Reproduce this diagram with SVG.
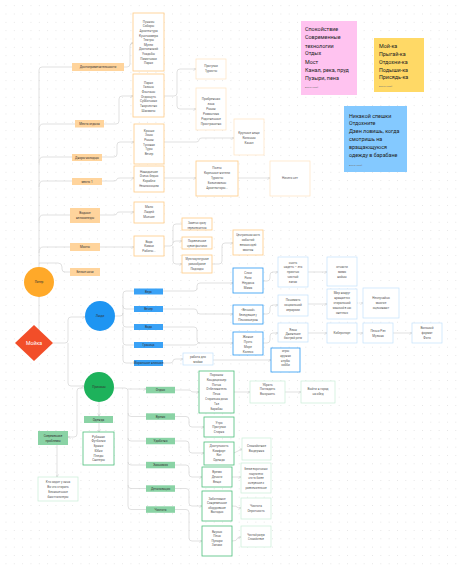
<svg xmlns="http://www.w3.org/2000/svg" width="457" height="569" viewBox="0 0 457 569">
<defs>
<pattern id="dots" width="8.33" height="8.33" patternUnits="userSpaceOnUse" x="1.8" y="1.5"><circle cx="4.17" cy="4.17" r="0.45" fill="#cfcfcf"/></pattern>
<marker id="ar" markerWidth="3" markerHeight="3" refX="2.6" refY="1.5" orient="auto" markerUnits="userSpaceOnUse"><path d="M0,0 L2.6,1.5 L0,3" fill="none" stroke="#c4c4c4" stroke-width="0.5"/></marker>
<style>
text{font-family:Roboto,"Noto Sans",sans-serif;}
.t{font-size:3.1px;fill:#555;text-anchor:middle;}
.t .s{font-size:2.6px;}
.lt{font-size:3.1px;fill:#333;text-anchor:middle;}
.st{font-size:5.4px;fill:#222;}
.au{font-size:2.2px;fill:#777;}
.ol{fill:#FFD49C;}
.ob{fill:#fff;stroke:#FFCB85;stroke-width:0.8;}
.ob2{fill:#fff;stroke:#FFE3BF;stroke-width:0.7;}
.bl{fill:#3AA2F6;}
.bb{fill:#fff;stroke:#2A98F2;stroke-width:0.8;}
.bb2{fill:#fff;stroke:#C3E1FB;stroke-width:0.7;}
.gl{fill:#8AD3A5;}
.gb{fill:#fff;stroke:#4DBF7A;stroke-width:0.8;}
.gb2{fill:#fff;stroke:#C9EED7;stroke-width:0.7;}
.c{fill:none;stroke:#cdcdcd;stroke-width:0.6;}
.ca{fill:none;stroke:#cdcdcd;stroke-width:0.6;marker-end:url(#ar);}
</style>
</defs>
<rect width="457" height="569" fill="#fff"/>
<rect width="457" height="569" fill="url(#dots)"/>

<g id="connectors">
<path class="c" d="M39,267 V70 Q39,67 42,67 H72"/>
<path class="c" d="M39,130 Q39,124 43,124 H75"/>
<path class="c" d="M39,163 Q39,157 43,157 H72"/>
<path class="c" d="M39,187 Q39,181 43,181 H72"/>
<path class="c" d="M39,221 Q39,215 43,215 H70"/>
<path class="c" d="M39,253 Q39,247 43,247 H70"/>
<path class="c" d="M39,263 H58 Q62,263 62,267 V269 Q62,272 65,272 H70"/>
<path class="c" d="M39,297 V331"/>
<path class="ca" d="M124,67 H127 Q130,67 130,64 V46 Q130,43 133,43"/>
<path class="ca" d="M104,124 H116 Q119,124 119,121 V99 Q119,96 122,96 H133"/>
<path class="ca" d="M102,157 H114 Q117,157 117,154 V145 Q117,142 120,142 H134"/>
<path class="ca" d="M102,181 H114 Q117,181 117,179 Q117,178 120,178 H134"/>
<path class="ca" d="M100,215 H114 Q117,215 117,213 Q117,212 120,212 H134"/>
<path class="ca" d="M100,247 H134"/>
<path class="ca" d="M164,96 H174 Q177,96 177,93 V72 Q177,69 180,69 H196"/>
<path class="ca" d="M177,96 V106 Q177,109 180,109 H196"/>
<path class="ca" d="M164,142 H196 Q199,142 199,140 Q199,138 202,138 H234"/>
<path class="ca" d="M164,178 H196"/>
<path class="ca" d="M238,178 H270"/>
<path class="c" d="M164,246 H170 Q173,246 173,243 V227 Q173,224 176,224 H182"/>
<path class="ca" d="M173,243 Q173,241 176,241 H182"/>
<path class="ca" d="M173,246 V261 Q173,264 176,264 H182"/>
<path class="ca" d="M212,264 H219 Q222,264 222,261 V246 Q222,243 225,243 H233"/>
<path class="ca" d="M53,343 H65 Q68,343 68,340 V320 Q68,317 71,317 H85"/>
<path class="ca" d="M68,343 V383 Q68,386 71,386 H84"/>
<path class="c" d="M115,316 H120 Q123,316 123,313 V294 Q123,291 126,291 H134"/>
<path class="c" d="M123,306 Q123,309 126,309 H134"/>
<path class="c" d="M123,313 V324 Q123,327 126,327 H134"/>
<path class="c" d="M123,327 V342 Q123,345 126,345 H134"/>
<path class="c" d="M123,345 V360 Q123,363 126,363 H134"/>
<path class="ca" d="M163,291 H194 Q197,291 197,288 V286 Q197,283 200,283 H233"/>
<path class="ca" d="M163,309 H194 Q197,309 197,311 Q197,314 200,314 H233"/>
<path class="ca" d="M163,327 H194 Q197,327 197,330 V340 Q197,343 200,343 H233"/>
<path class="c" d="M163,345 H194 Q197,345 197,344 Q197,343 200,343"/>
<path class="ca" d="M163,363 H170 Q173,363 173,361 Q173,359 176,359 H183"/>
<path class="ca" d="M213,360 H271"/>
<path class="ca" d="M263,281 H267 Q270,281 270,278 V275 Q270,272 273,272 H278"/>
<path class="ca" d="M308,272 H327"/>
<path class="ca" d="M263,314 H267 Q270,314 270,311 V308 Q270,305 273,305 H278"/>
<path class="ca" d="M308,304 H327"/>
<path class="ca" d="M357,303 H363" stroke-dasharray="1,0.8"/>
<path class="ca" d="M263,343 H267 Q270,343 270,340 V336 Q270,333 273,333 H278"/>
<path class="ca" d="M308,333 H327"/>
<path class="ca" d="M357,333 H363"/>
<path class="ca" d="M393,333 H412"/>
<path class="c" d="M114,388 H125 Q128,388 128,391 V506 Q128,509.5 131,509.5 H146"/>
<path class="ca" d="M128,389 H146"/>
<path class="c" d="M128,413 Q128,416.5 131,416.5 H146"/>
<path class="c" d="M128,438 Q128,441 131,441 H146"/>
<path class="c" d="M128,462 Q128,465 131,465 H146"/>
<path class="c" d="M128,485 Q128,488.5 131,488.5 H146"/>
<path class="ca" d="M175,390 H188 Q191,390 191,391 Q191,392 194,392 H199"/>
<path class="ca" d="M175,416.5 H186 Q189,416.5 189,419.5 V424 Q189,427 192,427 H204"/>
<path class="ca" d="M175,441 H186 Q189,441 189,444 V450 Q189,453 192,453 H204"/>
<path class="ca" d="M175,465 H186 Q189,465 189,468 V474 Q189,477 192,477 H202"/>
<path class="ca" d="M175,488.5 H186 Q189,488.5 189,491.5 V503 Q189,506 192,506 H202"/>
<path class="ca" d="M175,509.5 H186 Q189,509.5 189,512.5 V538 Q189,541 192,541 H202"/>
<path class="ca" d="M234,392 H250"/>
<path class="ca" d="M285,392 H301"/>
<path class="ca" d="M234,453 L242,449"/>
<path class="ca" d="M232,477 H241"/>
<path class="ca" d="M232,506 Q237,506 237,507 Q237,508 241,508"/>
<path class="ca" d="M232,541 Q237,541 237,539 Q237,537 241,537"/>
<path class="ca" d="M99,402 V416"/>
<path class="ca" d="M99,423 V432"/>
<path class="ca" d="M84,388 H80 Q77,388 77,391 V434 Q77,437 74,437 H68"/>
<path class="ca" d="M57,445 V477"/>
</g>

<g id="node-piter"><circle cx="39" cy="282" r="15" fill="#FFA929"/><text class="lt" x="39" y="283.2">Питер</text></g>
<g id="node-moika"><path d="M34,325 L53,343 L34,361 L15,343 Z" fill="#F24E29"/><text x="34" y="345" font-size="5.2" fill="#fff" text-anchor="middle">Мойка</text></g>
<g id="node-people"><circle cx="100" cy="316" r="15" fill="#1E95F2"/><text class="lt" x="100" y="317.2" fill="#fff">Люди</text></g>
<g id="node-reasons"><circle cx="99" cy="387" r="15" fill="#1DB25B"/><text class="lt" x="99" y="388.2">Причины</text></g>

<g id="o-l1"><rect class="ol" x="72" y="63" width="52" height="8"/><text class="lt" x="98" y="68.1">Достопримечательности</text></g>
<g id="o-l2"><rect class="ol" x="75" y="120" width="29" height="7.5"/><text class="lt" x="89.5" y="124.9">Места отдыха</text></g>
<g id="o-l3"><rect class="ol" x="72" y="154" width="30" height="7"/><text class="lt" x="87" y="158.6">Дворы-колодцы</text></g>
<g id="o-l4"><rect class="ol" x="72" y="178" width="30" height="7"/><text class="lt" x="87" y="182.6">место 1</text></g>
<g id="o-l5"><rect class="ol" x="70" y="208" width="30" height="15"/><text class="lt"><tspan x="85" y="213.8">Водные</tspan><tspan x="85" y="218.8">велосипеды</tspan></text></g>
<g id="o-l6"><rect class="ol" x="70" y="243" width="30" height="8"/><text class="lt" x="85" y="248.1">Мосты</text></g>
<g id="o-l7"><rect class="ol" x="70" y="268" width="30" height="8"/><text class="lt" x="85" y="273.1">Белые ночи</text></g>

<g id="o-b1"><rect class="ob" x="133" y="13" width="31" height="58"/><text class="t"><tspan x="148.5" y="22.8">Пушкин</tspan><tspan x="148.5" y="27.4">Соборы</tspan><tspan x="148.5" y="32">Архитектура</tspan><tspan x="148.5" y="36.6">Кунсткамера</tspan><tspan x="148.5" y="41.2">Театры</tspan><tspan x="148.5" y="45.8">Музеи</tspan><tspan x="148.5" y="50.4">Достоевский</tspan><tspan x="148.5" y="55">Усадьбы</tspan><tspan x="148.5" y="59.6">Памятники</tspan><tspan x="148.5" y="64.2">Парки</tspan></text></g>
<g id="o-b2"><rect class="ob" x="133" y="74" width="31" height="43"/><text class="t"><tspan x="148.5" y="83.6">Парки</tspan><tspan x="148.5" y="88.3">Газоны</tspan><tspan x="148.5" y="93">Фонтаны</tspan><tspan x="148.5" y="97.6">Отдохнуть</tspan><tspan x="148.5" y="102.3">Субботники</tspan><tspan x="148.5" y="107">Творчество</tspan><tspan x="148.5" y="111.6">Шахматы</tspan></text></g>
<g id="o-b2a"><rect class="ob2" x="196" y="59" width="30" height="20"/><text class="t"><tspan x="211" y="67.1">Прогулки</tspan><tspan x="211" y="71.6">Туристы</tspan></text></g>
<g id="o-b2b"><rect class="ob2" x="196" y="88" width="30" height="42"/><text class="t"><tspan x="211" y="100.1">Прибрежная</tspan><tspan x="211" y="105.1">зона</tspan><tspan x="211" y="110.1">Рынок</tspan><tspan x="211" y="115.1">Романтика</tspan><tspan x="211" y="120.1">Родственные</tspan><tspan x="211" y="125.1">Пространство</tspan></text></g>
<g id="o-b3"><rect class="ob" x="134" y="124" width="30" height="40"/><text class="t"><tspan x="149" y="131.8">Крыши</tspan><tspan x="149" y="136.4">Зоны</tspan><tspan x="149" y="141.1">Рынок</tspan><tspan x="149" y="145.8">Тусовки</tspan><tspan x="149" y="150.1">Туры</tspan><tspan x="149" y="154.8">Вечер</tspan></text></g>
<g id="o-b3b"><rect class="ob2" x="234" y="119" width="30" height="36"/><text class="t"><tspan x="249" y="134.4">Крупные вещи</tspan><tspan x="249" y="139.4">Колонны</tspan><tspan x="249" y="143.8">Канал</tspan></text></g>
<g id="o-b4"><rect class="ob" x="134" y="166" width="30" height="26"/><text class="t"><tspan x="149" y="172.8">Наводнение</tspan><tspan x="149" y="177.4">Очень бедно</tspan><tspan x="149" y="182.1">Корабли</tspan><tspan x="149" y="186.8" class="s">Неоклассицизм</tspan></text></g>
<g id="o-b4b"><rect class="ob" x="196" y="161" width="42" height="35"/><text class="t"><tspan x="217" y="169.4">Поэты</tspan><tspan x="217" y="174.4">Коренные жители</tspan><tspan x="217" y="179.4">Туристы</tspan><tspan x="217" y="184.4">Бизнесмены</tspan><tspan x="217" y="189.4">Архитекторы...</tspan></text></g>
<g id="o-b4c"><rect class="ob2" x="270" y="161" width="40" height="35"/><text class="t" x="290" y="179.1">Ничего нет</text></g>
<g id="o-b5"><rect class="ob" x="134" y="202" width="30" height="21"/><text class="t"><tspan x="149" y="208.4">Мало</tspan><tspan x="149" y="213.1">Людей</tspan><tspan x="149" y="217.8">Мнение</tspan></text></g>
<g id="o-b6"><rect class="ob" x="134" y="236" width="30" height="20"/><text class="t"><tspan x="149" y="242.8">Вода</tspan><tspan x="149" y="247.4">Камни</tspan><tspan x="149" y="252.1">Работы...</tspan></text></g>
<g id="o-b6a"><rect class="ob" x="182" y="218" width="30" height="12"/><text class="t"><tspan x="197" y="224.4" class="s">Заметно сразу</tspan><tspan x="197" y="229" class="s">переключиться</tspan></text></g>
<g id="o-b6b"><rect class="ob" x="182" y="237" width="30" height="12"/><text class="t"><tspan x="197" y="242.1" class="s">Подсвеченные</tspan><tspan x="197" y="246.8" class="s">чужие фантазии</tspan></text></g>
<g id="o-b6c"><rect class="ob" x="182" y="255" width="30" height="18"/><text class="t"><tspan x="197" y="260.4" class="s">Мультикультурные</tspan><tspan x="197" y="265.4" class="s">разнообразие</tspan><tspan x="197" y="270.4">Подходы</tspan></text></g>
<g id="o-b6d"><rect class="ob" x="233" y="230" width="30" height="25"/><text class="t"><tspan x="248" y="236.1" class="s">Центральная часть</tspan><tspan x="248" y="241.1">событий</tspan><tspan x="248" y="246.1" class="s">великих идей</tspan><tspan x="248" y="251.1">мостов</tspan></text></g>

<g id="b-l1"><rect class="bl" x="134" y="288.5" width="29" height="6"/><text class="lt" x="148.5" y="292.6">Верх</text></g>
<g id="b-l2"><rect class="bl" x="134" y="306" width="29" height="6"/><text class="lt" x="148.5" y="310.1">Вечер</text></g>
<g id="b-l3"><rect class="bl" x="134" y="324" width="29" height="6"/><text class="lt" x="148.5" y="328.1">Вода</text></g>
<g id="b-l4"><rect class="bl" x="134" y="342" width="29" height="6"/><text class="lt" x="148.5" y="346.1">Граница</text></g>
<g id="b-l5"><rect class="bl" x="134" y="360" width="29" height="6"/><text class="lt" x="148.5" y="364.1" font-size="2.7">Моральное влияние</text></g>

<g id="b-a"><rect class="bb" x="233" y="268" width="30" height="25"/><text class="t"><tspan x="248" y="274.4">Слои</tspan><tspan x="248" y="279.4">Роли</tspan><tspan x="248" y="284.4">Неудача</tspan><tspan x="248" y="289.4">Мама</tspan></text></g>
<g id="b-a2"><rect class="bb2" x="278" y="257" width="30" height="30"/><text class="t"><tspan x="293" y="264.4">снять</tspan><tspan x="293" y="268.4">надеть – это</tspan><tspan x="293" y="272.8">приятно</tspan><tspan x="293" y="277.8">чистый</tspan><tspan x="293" y="282.8">запах</tspan></text></g>
<g id="b-a3"><rect class="bb2" x="327" y="257" width="30" height="29"/><text class="t"><tspan x="342" y="267.8">отчасти</tspan><tspan x="342" y="272.8">мимо</tspan><tspan x="342" y="277.8">войны</tspan></text></g>
<g id="b-b"><rect class="bb" x="233" y="305" width="30" height="19"/><text class="t"><tspan x="248" y="311.1">«Вечный»</tspan><tspan x="248" y="316.1" class="s">Беседующие у</tspan><tspan x="248" y="321.1">Пенсионеров</tspan></text></g>
<g id="b-b2"><rect class="bb2" x="278" y="295" width="30" height="21"/><text class="t"><tspan x="293" y="301.1">Понимать</tspan><tspan x="293" y="306.1">социальной</tspan><tspan x="293" y="311.1">иерархии</tspan></text></g>
<g id="b-b3"><rect class="bb2" x="327" y="289" width="30" height="30"/><text class="t"><tspan x="342" y="294.4">Мир вокруг</tspan><tspan x="342" y="299.4">вращается</tspan><tspan x="342" y="304.4">стиральной</tspan><tspan x="342" y="309.4" class="s">машиной в нас</tspan><tspan x="342" y="314.4">светлых</tspan></text></g>
<g id="b-b4"><rect class="bb2" x="363" y="288" width="36" height="30"/><text class="t"><tspan x="381" y="299.4">Неслучайно</tspan><tspan x="381" y="304.4">многие</tspan><tspan x="381" y="309.4">оценивают</tspan></text></g>
<g id="b-c"><rect class="bb" x="233" y="332" width="30" height="23"/><text class="t"><tspan x="248" y="337.8">Живые</tspan><tspan x="248" y="342.8">Пусть</tspan><tspan x="248" y="347.8">Море</tspan><tspan x="248" y="352.8">Колесо</tspan></text></g>
<g id="b-c2"><rect class="bb2" x="278" y="323" width="30" height="19"/><text class="t"><tspan x="293" y="331.1">Язык</tspan><tspan x="293" y="335.4">Движение</tspan><tspan x="293" y="339.4" class="s">быстрый ритм</tspan></text></g>
<g id="b-c3"><rect class="bb2" x="327" y="323" width="30" height="20"/><text class="t" x="342" y="334.1">Киберспорт</text></g>
<g id="b-c4"><rect class="bb2" x="363" y="323" width="30" height="20"/><text class="t"><tspan x="378" y="332.1">Песни Рэп</tspan><tspan x="378" y="336.6">Музыка</tspan></text></g>
<g id="b-c5"><rect class="bb2" x="412" y="323" width="30" height="20"/><text class="t"><tspan x="427" y="329.1">Вольный</tspan><tspan x="427" y="334.1">формат</tspan><tspan x="427" y="339.1">Фото</tspan></text></g>
<g id="b-d"><rect class="bb2" x="183" y="353" width="30" height="12"/><text class="t"><tspan x="198" y="358.1">работа для</tspan><tspan x="198" y="363.1">мойки</tspan></text></g>
<g id="b-e"><rect class="bb" x="271" y="348" width="29" height="24"/><text class="t"><tspan x="285.5" y="351.8">игры</tspan><tspan x="285.5" y="356.8">кружки</tspan><tspan x="285.5" y="361.8">клубы</tspan><tspan x="285.5" y="366.4">хобби</tspan></text></g>

<g id="g-l1"><rect class="gl" x="146" y="386.8" width="29" height="6.5"/><text class="lt" x="160.5" y="391.1">Отдых</text></g>
<g id="g-l2"><rect class="gl" x="146" y="413.3" width="29" height="6.5"/><text class="lt" x="160.5" y="417.6">Время</text></g>
<g id="g-l3"><rect class="gl" x="146" y="437.8" width="29" height="6.5"/><text class="lt" x="160.5" y="442.1">Удобство</text></g>
<g id="g-l4"><rect class="gl" x="146" y="461.8" width="29" height="6.5"/><text class="lt" x="160.5" y="466.1">Экономия</text></g>
<g id="g-l5"><rect class="gl" x="146" y="485.3" width="29" height="6.5"/><text class="lt" x="160.5" y="489.6">Детализация</text></g>
<g id="g-l6"><rect class="gl" x="146" y="506.3" width="29" height="6.5"/><text class="lt" x="160.5" y="510.6">Чистота</text></g>

<g id="g-b1"><rect class="gb" x="199" y="371" width="35" height="42"/><text class="t"><tspan x="216.5" y="376.1">Порошок</tspan><tspan x="216.5" y="381.1">Кондиционер</tspan><tspan x="216.5" y="386.1">Пятна</tspan><tspan x="216.5" y="390.4">Отбеливатель</tspan><tspan x="216.5" y="395.1">Пена</tspan><tspan x="216.5" y="400.4" class="s">Стиральная доска</tspan><tspan x="216.5" y="405.1">Таз</tspan><tspan x="216.5" y="410.1">Барабан</tspan></text></g>
<g id="g-b1b"><rect class="gb2" x="250" y="381" width="35" height="22"/><text class="t"><tspan x="267.5" y="386.1">Убрать</tspan><tspan x="267.5" y="390.4">Погладить</tspan><tspan x="267.5" y="395.1">Высушить</tspan></text></g>
<g id="g-b1c"><rect class="gb2" x="301" y="381" width="34" height="22"/><text class="t"><tspan x="318" y="390.4">Выйти в город</tspan><tspan x="318" y="395.1">на обед</tspan></text></g>
<g id="g-b2"><rect class="gb" x="204" y="417" width="30" height="20"/><text class="t"><tspan x="219" y="423.8">Утро</tspan><tspan x="219" y="428.4">Прогулки</tspan><tspan x="219" y="433.4">Стирка</tspan></text></g>
<g id="g-b3"><rect class="gb" x="204" y="442" width="30" height="23"/><text class="t"><tspan x="219" y="447.1">Доступность</tspan><tspan x="219" y="451.8">Комфорт</tspan><tspan x="219" y="456.4">Кот</tspan><tspan x="219" y="461.1">Одежда</tspan></text></g>
<g id="g-b3b"><rect class="gb2" x="242" y="438" width="29" height="22"/><text class="t"><tspan x="256.5" y="447.1">Спокойствие</tspan><tspan x="256.5" y="451.8">Выдержка</tspan></text></g>
<g id="g-b4"><rect class="gb" x="202" y="467" width="30" height="20"/><text class="t"><tspan x="217" y="472.8">Время</tspan><tspan x="217" y="477.8">Деньги</tspan><tspan x="217" y="482.8">Вещи</tspan></text></g>
<g id="g-b4b"><rect class="gb2" x="241" y="463" width="30" height="30"/><text class="t"><tspan x="256" y="470.4" class="s">Белые воротнички</tspan><tspan x="256" y="475.1" class="s">покупатели</tspan><tspan x="256" y="479.4" class="s">что-то более</tspan><tspan x="256" y="484.4" class="s">интересное и</tspan><tspan x="256" y="489.1" class="s">развлекательное</tspan></text></g>
<g id="g-b5"><rect class="gb" x="202" y="491" width="30" height="30"/><text class="t"><tspan x="217" y="500.4">Заботливое</tspan><tspan x="217" y="504.4">Современное</tspan><tspan x="217" y="508.8" class="s">оборудование</tspan><tspan x="217" y="513.4">Выгодно</tspan></text></g>
<g id="g-b5b"><rect class="gb2" x="241" y="498" width="30" height="21"/><text class="t"><tspan x="256" y="507.1">Чистота</tspan><tspan x="256" y="511.8">Опрятность</tspan></text></g>
<g id="g-b6"><rect class="gb" x="202" y="526" width="30" height="30"/><text class="t"><tspan x="217" y="532.8">Вкусно</tspan><tspan x="217" y="537.1">Пена</tspan><tspan x="217" y="541.8">Пузыри</tspan><tspan x="217" y="546.1">Запахи</tspan></text></g>
<g id="g-b6b"><rect class="gb2" x="241" y="526" width="30" height="21"/><text class="t"><tspan x="256" y="535.6" class="s">Чистый разум</tspan><tspan x="256" y="540.1" class="s">Спокойствие</tspan></text></g>
<g id="g-cl"><rect class="gl" x="84" y="416" width="29" height="7"/><text class="lt" x="98.5" y="420.6">Одежда</text></g>
<g id="g-cb"><rect class="gb" x="83" y="432" width="31" height="33"/><text class="t"><tspan x="98.5" y="438.1">Рубашки</tspan><tspan x="98.5" y="442.4">Футболки</tspan><tspan x="98.5" y="447.1">Брюки</tspan><tspan x="98.5" y="451.8">Юбки</tspan><tspan x="98.5" y="456.8">Пледы</tspan><tspan x="98.5" y="461.1">Свитеры</tspan></text></g>
<g id="g-pl"><rect class="gl" x="38" y="431" width="30" height="14"/><text class="lt"><tspan x="53" y="436.6" font-size="2.8">Современные</tspan><tspan x="53" y="441.6">проблемы</tspan></text></g>
<g id="g-pb"><rect class="gb2" x="38" y="477" width="40" height="24"/><text class="t"><tspan x="58" y="483.1">Кто сидит у окна</tspan><tspan x="58" y="488.1">Во что стирать</tspan><tspan x="58" y="493.1">Бесконечные</tspan><tspan x="58" y="498.1">бюстгальтеры</tspan></text></g>

<g id="sticky-pink"><rect x="301" y="21" width="56" height="74" fill="#FFC3F0"/><text class="st"><tspan x="305" y="31.2">Спокойствие</tspan><tspan x="305" y="39.3">Современные</tspan><tspan x="305" y="47.6">технологии</tspan><tspan x="305" y="55.4">Отдых</tspan><tspan x="305" y="63.7">Мост</tspan><tspan x="305" y="72">Канал, река, пруд</tspan><tspan x="305" y="80.3">Пузыри, пена</tspan></text><text class="au" x="305" y="88">Алина Кораб</text></g>
<g id="sticky-yellow"><rect x="374" y="38" width="50" height="54" fill="#FFD966"/><text class="st"><tspan x="379" y="48">Мой-ка</tspan><tspan x="379" y="56">Прыгай-ка</tspan><tspan x="379" y="63.6">Отдохни-ка</tspan><tspan x="379" y="72">Подыши-ка</tspan><tspan x="379" y="79.2">Присядь-ка</tspan></text><text class="au" x="379" y="87">Алина Кораб</text></g>
<g id="sticky-blue"><rect x="344" y="106" width="63" height="66" fill="#84C9FF"/><text class="st"><tspan x="349" y="118">Никакой спешки</tspan><tspan x="349" y="125.3">Отдохните</tspan><tspan x="349" y="133.3">Дзен ловишь, когда</tspan><tspan x="349" y="141.3">смотришь на</tspan><tspan x="349" y="149.3">вращающуюся</tspan><tspan x="349" y="157.3">одежду в барабане</tspan></text><text class="au" x="349" y="165.5">Алина Кораб</text></g>
</svg>
